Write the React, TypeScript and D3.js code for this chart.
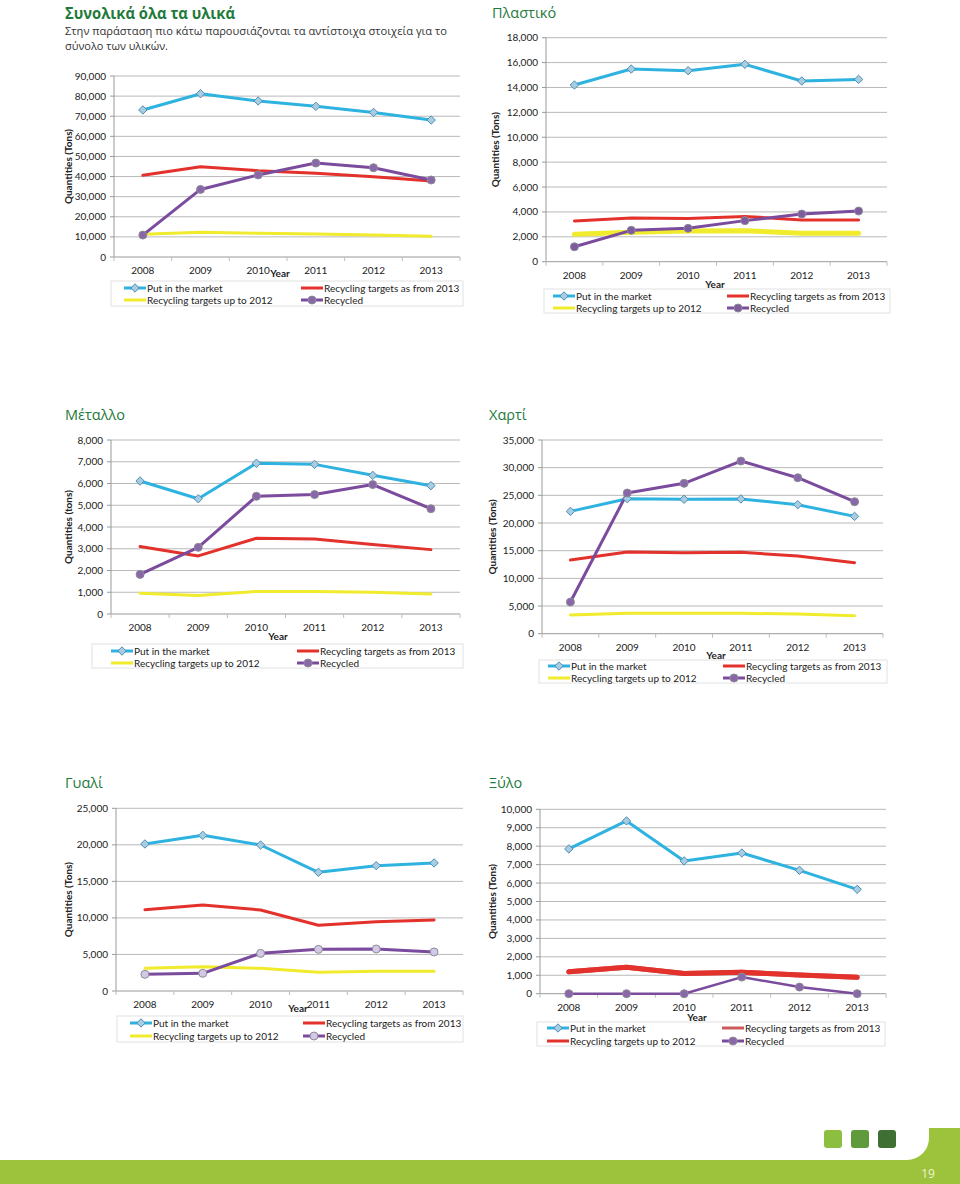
import React from "react";
import * as d3 from "d3";

// ---------- DATA ----------
const years = ["2008", "2009", "2010", "2011", "2012", "2013"];
const seriesNames = [
  "Put in the market",
  "Recycling targets as from 2013",
  "Recycling targets up to 2012",
  "Recycled",
];

// Total (all materials)
const totalMarket = [73100, 81200, 77600, 74900, 71900, 68100];
const totalTarget2013 = [40600, 44900, 42900, 41600, 39900, 37800];
const totalTarget2012 = [11300, 12300, 11800, 11400, 10900, 10300];
const totalRecycled = [10900, 33600, 40800, 46700, 44400, 38300];

// Plastic
const plasticMarket = [14200, 15480, 15350, 15860, 14520, 14650];
const plasticTarget2013 = [3270, 3510, 3480, 3640, 3350, 3350];
const plasticTarget2012 = [2200, 2360, 2460, 2490, 2280, 2280];
const plasticRecycled = [1200, 2520, 2680, 3300, 3830, 4070];

// Metal
const metalMarket = [6115, 5300, 6930, 6880, 6375, 5900];
const metalTarget2013 = [3100, 2670, 3480, 3450, 3200, 2960];
const metalTarget2012 = [950, 845, 1040, 1040, 995, 920];
const metalRecycled = [1820, 3065, 5410, 5490, 5950, 4840];

// Paper
const paperMarket = [22100, 24400, 24280, 24340, 23310, 21200];
const paperTarget2013 = [13310, 14760, 14640, 14700, 14040, 12830];
const paperTarget2012 = [3370, 3680, 3680, 3680, 3550, 3250];
const paperRecycled = [5720, 25420, 27170, 31200, 28190, 23850];

// Glass
const glassMarket = [20120, 21300, 19980, 16240, 17150, 17520];
const glassTarget2013 = [11130, 11770, 11090, 8990, 9490, 9720];
const glassTarget2012 = [3100, 3330, 3100, 2550, 2690, 2690];
const glassRecycled = [2280, 2420, 5150, 5700, 5750, 5340];

// Wood
const woodMarket = [7850, 9370, 7200, 7630, 6690, 5660];
const woodTarget2013 = [1190, 1430, 1100, 1160, 1010, 890];
const woodTarget2012 = [1190, 1430, 1100, 1160, 1010, 890];
const woodRecycled = [0, 0, 0, 900, 360, 0];

const yMaxes = [90000, 18000, 8000, 35000, 25000, 10000];
const ySteps = [10000, 2000, 1000, 5000, 5000, 1000];

// ---------- STYLE ----------
const BLUE = "#2eb2e0";
const RED = "#e3312b";
const YELLOW = "#f0eb2c";
const PURPLE = "#7b4b9d";
const GRID = "#b9b9b9";
const HEAD = "#1f7a3c";
const FONT = "'Open Sans', 'Noto Sans', sans-serif";
const CFONT = "Lato, 'Open Sans', sans-serif";

type Layout = {
  title: string;
  titleX: number;
  titleY: number;
  left: number;
  right: number;
  top: number;
  bottom: number;
  ytitle: string;
  ytitleX: number;
  xLabelY: number;
  yearX: number;
  yearY: number;
  lg: { x0: number; x1: number; y0: number; y1: number; r1: number; r2: number; c1: number; c2: number };
  widths: number[];
  colors: string[];
  purpleFill: string;
  order: number[];
};

function Diamond({ x, y }: { x: number; y: number }) {
  const s = 4.2;
  return (
    <path
      d={`M${x},${y - s}L${x + s},${y}L${x},${y + s}L${x - s},${y}Z`}
      fill="#a7cde3"
      stroke="#4f8db3"
      strokeWidth={1}
    />
  );
}

function Dot({ x, y, fill }: { x: number; y: number; fill: string }) {
  return <circle cx={x} cy={y} r={4} fill={fill} stroke="#8c8c98" strokeWidth={1} />;
}

function Chart({ L, data, yMax, yStep }: { L: Layout; data: number[][]; yMax: number; yStep: number }) {
  const x = d3.scalePoint<string>().domain(years).range([L.left, L.right]).padding(0.5);
  const y = d3.scaleLinear().domain([0, yMax]).range([L.bottom, L.top]);
  const ticks = d3.range(0, yMax + yStep / 2, yStep);
  const fmt = d3.format(",");
  const step = x.step();
  const line = d3
    .line<number>()
    .x((_, i) => x(years[i]) as number)
    .y((v) => y(v));
  return (
    <g>
      {L.title && (
        <text x={L.titleX} y={L.titleY} fill={HEAD} fontFamily={FONT} fontSize={14.5}>
          {L.title}
        </text>
      )}
      {ticks.map((t) => (
        <g key={t}>
          <line x1={L.left} x2={L.right} y1={y(t)} y2={y(t)} stroke={t === 0 ? "#9a9a9a" : GRID} strokeWidth={1} />
          <line x1={L.left - 4} x2={L.left} y1={y(t)} y2={y(t)} stroke="#9a9a9a" />
          <text
            x={L.left - 8}
            y={y(t)}
            dy="0.35em"
            textAnchor="end"
            fontFamily={CFONT}
            fontSize={10}
            fill="#222"
          >
            {fmt(t)}
          </text>
        </g>
      ))}
      <line x1={L.left} x2={L.left} y1={L.top} y2={L.bottom} stroke="#9a9a9a" />
      {d3.range(7).map((i) => (
        <line
          key={i}
          x1={L.left + i * step}
          x2={L.left + i * step}
          y1={L.bottom}
          y2={L.bottom + 4}
          stroke="#bdbdbd"
        />
      ))}
      {years.map((yr) => (
        <text
          key={yr}
          x={x(yr)}
          y={L.xLabelY}
          dy="0.35em"
          textAnchor="middle"
          fontFamily={CFONT}
          fontSize={10}
          fill="#222"
        >
          {yr}
        </text>
      ))}
      <text x={L.yearX} y={L.yearY} dy="0.35em" textAnchor="middle" fontFamily={CFONT} fontSize={10} fontWeight="bold" fill="#222">
        Year
      </text>
      <text
        transform={`translate(${L.ytitleX},${(L.top + L.bottom) / 2}) rotate(-90)`}
        textAnchor="middle"
        dy="0.35em"
        fontFamily={CFONT}
        fontSize={10}
        fontWeight="bold"
        fill="#222"
      >
        {L.ytitle}
      </text>
      {L.order.map((k) => (
        <path
          key={k}
          d={line(data[k]) || ""}
          fill="none"
          stroke={L.colors[k]}
          strokeWidth={L.widths[k]}
          strokeLinejoin="round"
          strokeLinecap="round"
        />
      ))}
      {data[0].map((v, i) => (
        <Diamond key={"d" + i} x={x(years[i]) as number} y={y(v)} />
      ))}
      {data[3].map((v, i) => (
        <Dot key={"c" + i} x={x(years[i]) as number} y={y(v)} fill={L.purpleFill} />
      ))}
      {/* legend */}
      <rect
        x={L.lg.x0}
        y={L.lg.y0}
        width={L.lg.x1 - L.lg.x0}
        height={L.lg.y1 - L.lg.y0}
        fill="#fff"
        stroke="#e2e2e2"
      />
      {[0, 1, 2, 3].map((k) => {
        const cx = k === 0 || k === 2 ? L.lg.c1 : L.lg.c2;
        const cy = k < 2 ? L.lg.r1 : L.lg.r2;
        return (
          <g key={"lg" + k}>
            <line x1={cx} x2={cx + 22} y1={cy} y2={cy} stroke={L.colors[k]} strokeWidth={3} />
            {k === 0 && <Diamond x={cx + 11} y={cy} />}
            {k === 3 && <Dot x={cx + 11} y={cy} fill={L.purpleFill} />}
            <text x={cx + 23} y={cy} dy="0.35em" fontFamily={CFONT} fontSize={10} fill="#222">
              {seriesNames[k]}
            </text>
          </g>
        );
      })}
    </g>
  );
}

const baseColors = [BLUE, RED, YELLOW, PURPLE];
const baseOrder = [2, 1, 0, 3];

const layouts: Layout[] = [
  {
    title: "",
    titleX: 65,
    titleY: 0,
    left: 114,
    right: 460,
    top: 76,
    bottom: 257,
    ytitle: "Quantities (Tons)",
    ytitleX: 68,
    xLabelY: 270,
    yearX: 280,
    yearY: 273,
    lg: { x0: 111, x1: 463, y0: 281, y1: 306, r1: 288, r2: 300, c1: 124, c2: 301 },
    widths: [3, 3, 3, 3],
    colors: baseColors,
    purpleFill: "#8a67a8",
    order: baseOrder,
  },
  {
    title: "Πλαστικό",
    titleX: 492,
    titleY: 18,
    left: 546,
    right: 887,
    top: 37.7,
    bottom: 261.7,
    ytitle: "Quantities (Tons)",
    ytitleX: 495,
    xLabelY: 275,
    yearX: 715,
    yearY: 284,
    lg: { x0: 544, x1: 890, y0: 289, y1: 313, r1: 296, r2: 308, c1: 553, c2: 727 },
    widths: [3, 3, 5, 3],
    colors: baseColors,
    purpleFill: "#7e5a9e",
    order: baseOrder,
  },
  {
    title: "Μέταλλο",
    titleX: 65,
    titleY: 420,
    left: 111,
    right: 460,
    top: 440,
    bottom: 614,
    ytitle: "Quantities (tons)",
    ytitleX: 68,
    xLabelY: 627,
    yearX: 278,
    yearY: 636,
    lg: { x0: 92, x1: 463, y0: 644, y1: 668, r1: 651, r2: 663, c1: 111, c2: 297 },
    widths: [3, 3, 3, 3],
    colors: baseColors,
    purpleFill: "#8a67a8",
    order: baseOrder,
  },
  {
    title: "Χαρτί",
    titleX: 489,
    titleY: 420,
    left: 542,
    right: 883,
    top: 440,
    bottom: 633.7,
    ytitle: "Quantities (Tons)",
    ytitleX: 492,
    xLabelY: 647,
    yearX: 716,
    yearY: 655,
    lg: { x0: 539, x1: 887, y0: 660, y1: 683, r1: 666, r2: 678, c1: 548, c2: 723 },
    widths: [3, 3, 3, 3],
    colors: baseColors,
    purpleFill: "#8a67a8",
    order: baseOrder,
  },
  {
    title: "Γυαλί",
    titleX: 65,
    titleY: 788,
    left: 116,
    right: 463,
    top: 808.3,
    bottom: 991,
    ytitle: "Quantities (Tons)",
    ytitleX: 68,
    xLabelY: 1004,
    yearX: 298,
    yearY: 1008,
    lg: { x0: 117, x1: 463, y0: 1016, y1: 1042, r1: 1023, r2: 1036, c1: 130, c2: 303 },
    widths: [3, 3, 3, 3],
    colors: baseColors,
    purpleFill: "#d3c9e6",
    order: baseOrder,
  },
  {
    title: "Ξύλο",
    titleX: 489,
    titleY: 788,
    left: 540,
    right: 886,
    top: 809.3,
    bottom: 993.7,
    ytitle: "Quantities (Tons)",
    ytitleX: 492,
    xLabelY: 1007,
    yearX: 697,
    yearY: 1017,
    lg: { x0: 537, x1: 885, y0: 1022, y1: 1046, r1: 1028, r2: 1041, c1: 547, c2: 722 },
    widths: [3, 5, 5, 2.5],
    colors: [BLUE, "#cd5a5e", RED, PURPLE],
    purpleFill: "#8a67a8",
    order: [1, 2, 0, 3],
  },
];

const allData = [
  [totalMarket, totalTarget2013, totalTarget2012, totalRecycled],
  [plasticMarket, plasticTarget2013, plasticTarget2012, plasticRecycled],
  [metalMarket, metalTarget2013, metalTarget2012, metalRecycled],
  [paperMarket, paperTarget2013, paperTarget2012, paperRecycled],
  [glassMarket, glassTarget2013, glassTarget2012, glassRecycled],
  [woodMarket, woodTarget2013, woodTarget2012, woodRecycled],
];

const footerSquares = ["#8cbf3f", "#5f9a3c", "#3f6f33"];

export default function App() {
  return (
    <svg
      width={960}
      height={1184}
      style={{ position: "absolute", left: 0, top: 0, background: "#fff" }}
    >
      <rect width={960} height={1184} fill="#fff" />
      <text
        x={65}
        y={19}
        fill={HEAD}
        fontFamily={FONT}
        fontSize={16}
        fontWeight="bold"
        textLength={170}
        lengthAdjust="spacingAndGlyphs"
      >
        Συνολικά όλα τα υλικά
      </text>
      <text
        x={65}
        y={35}
        fill="#333"
        fontFamily={FONT}
        fontSize={11.5}
        textLength={382}
        lengthAdjust="spacingAndGlyphs"
      >
        Στην παράσταση πιο κάτω παρουσιάζονται τα αντίστοιχα στοιχεία για το
      </text>
      <text
        x={65}
        y={50}
        fill="#333"
        fontFamily={FONT}
        fontSize={11.5}
        textLength={103}
        lengthAdjust="spacingAndGlyphs"
      >
        σύνολο των υλικών.
      </text>
      {layouts.map((L, i) => (
        <Chart key={i} L={L} data={allData[i]} yMax={yMaxes[i]} yStep={ySteps[i]} />
      ))}
      {/* footer */}
      <rect x={880} y={1128} width={80} height={40} fill="#9dc23c" />
      <rect x={0} y={1160} width={960} height={24} fill="#9dc23c" />
      <rect x={-40} y={1090} width={969} height={70} rx={22} fill="#fff" />
      {footerSquares.map((c, i) => (
        <rect key={c} x={824 + i * 27} y={1130} width={18} height={18} rx={3} fill={c} />
      ))}
      <text x={928} y={1178} textAnchor="middle" fill="#eef4d6" fontFamily={FONT} fontSize={12}>
        19
      </text>
    </svg>
  );
}
